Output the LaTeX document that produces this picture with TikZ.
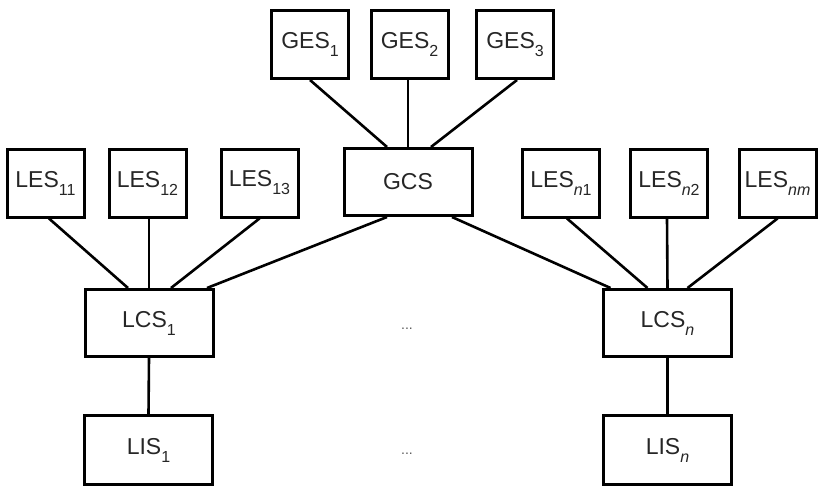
\documentclass[tikz,border=0pt]{standalone}
\usepackage{fontspec}
\setmainfont{Liberation Sans}
\newcommand{\sbs}[1]{\raisebox{-8pt}{\fontsize{16}{16}\selectfont #1}}
\begin{document}
\begin{tikzpicture}[x=1pt,y=-1pt,
  every node/.style={font=\fontsize{23}{27}\selectfont,text=black!85},
  sbox/.style={draw=black,line width=3pt,minimum width=77pt,minimum height=68pt,inner sep=0pt},
  bbox/.style={draw=black,line width=3pt,minimum width=128pt,minimum height=67pt,inner sep=0pt},
  conn/.style={line width=2.6pt}]
\useasboundingbox (0,0) rectangle (824,490);
% top row
\node[sbox] (GES1) at (310,44.5) {GES\sbs{1}};
\node[sbox] (GES2) at (409.5,44.5) {GES\sbs{2}};
\node[sbox] (GES3) at (515,44.5) {GES\sbs{3}};
% middle row
\node[sbox] (LES11) at (45.5,183) {LES\sbs{11}};
\node[sbox] (LES12) at (147.5,183) {LES\sbs{12}};
\node[sbox] (LES13) at (259.5,183) {LES\sbs{13}};
\node[bbox,minimum height=67pt] (GCS) at (408,182) {GCS};
\node[sbox] (LESn1) at (561,183) {LES\sbs{\textit{n}1}};
\node[sbox] (LESn2) at (669,183) {LES\sbs{\textit{n}2}};
\node[sbox] (LESnm) at (777.5,183) {LES\sbs{\textit{nm}}};
% LCS row
\node[bbox] (LCS1) at (149,323) {LCS\sbs{1}};
\node[bbox] (LCSn) at (667.5,323) {LCS\sbs{\textit{n}}};
\node[text=black!65] (dots1) at (407,329) {\fontsize{14}{14}\selectfont ...};
% LIS row
\node[bbox,minimum height=69pt] (LIS1) at (148.5,450) {LIS\sbs{1}};
\node[bbox,minimum height=69pt] (LISn) at (667.5,450) {LIS\sbs{\textit{n}}};
\node[text=black!65] (dots2) at (407,454) {\fontsize{14}{14}\selectfont ...};
% connectors
\draw[conn] (GES1.south) -- ([xshift=-21pt]GCS.north);
\draw[conn] ([xshift=-1.5pt]GES2.south) -- (GCS.north);
\draw[conn] ([xshift=2pt]GES3.south) -- ([xshift=23pt]GCS.north);
\draw[conn] ([xshift=3.5pt]LES11.south) -- ([xshift=-21pt]LCS1.north);
\draw[conn] ([xshift=1.5pt]LES12.south) -- (LCS1.north);
\draw[conn] (LES13.south) -- ([xshift=22pt]LCS1.north);
\draw[conn] ([xshift=-21pt]GCS.south) -- ([xshift=58pt]LCS1.north);
\draw[conn] ([xshift=44pt]GCS.south) -- ([xshift=-57pt]LCSn.north);
\draw[conn] ([xshift=6pt]LESn1.south) -- ([xshift=-20pt]LCSn.north);
\draw[conn] ([xshift=-2pt]LESn2.south) -- (LCSn.north);
\draw[conn] (LESnm.south) -- ([xshift=20pt]LCSn.north);
\draw[conn] (LCS1.south) -- (LIS1.north);
\draw[conn] (LCSn.south) -- (LISn.north);
\end{tikzpicture}
\end{document}
